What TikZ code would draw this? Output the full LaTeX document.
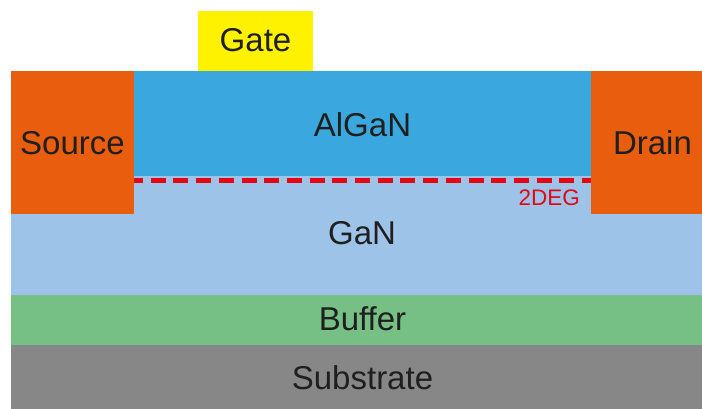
\documentclass[tikz,border=0pt]{standalone}
\usepackage{fontspec}
\setmainfont{Liberation Sans}
\definecolor{contactc}{HTML}{E85D0E}
\definecolor{algan}{HTML}{3AA8DF}
\definecolor{ganc}{HTML}{9DC3E8}
\definecolor{bufferc}{HTML}{76C085}
\definecolor{subc}{HTML}{878787}
\definecolor{gatec}{HTML}{FFF200}
\definecolor{degc}{HTML}{E30613}
\definecolor{txt}{HTML}{1F1F1F}
\tikzset{
  lbl/.style={anchor=base, inner sep=0pt, text=txt, font=\fontsize{33}{33}\selectfont},
  deglbl/.style={anchor=base east, inner sep=0pt, text=degc, font=\fontsize{22.5}{22.5}\selectfont},
  degline/.style={draw=degc, line width=5.5pt, dash pattern=on 15pt off 7.7pt, dash phase=6pt}
}
\begin{document}
\begin{tikzpicture}[x=1pt,y=-1pt]
\useasboundingbox (0,0) rectangle (702,409);
\clip (0,0) rectangle (702,409);
\fill[white] (0,0) rectangle (702,409);
% layers
\fill[subc] (11,345) rectangle (714,409);
\fill[bufferc] (11,295) rectangle (714,345);
\fill[ganc] (11,176) rectangle (714,295);
\fill[algan] (134,71) rectangle (591,176);
\fill[contactc] (11,71) rectangle (134,214);
\fill[contactc] (591,71) rectangle (714,214);
\fill[gatec] (198,11) rectangle (313,71);
% 2DEG
\coordinate (degL) at (134,180.7);
\coordinate (degR) at (591,180.7);
\draw[degline] (degL) -- (degR);
% labels
\node[lbl] (gate) at (255.5,52) {Gate};
\node[lbl] (alganlbl) at (362.5,137) {AlGaN};
\node[lbl] (source) at (72.5,155) {Source};
\node[lbl] (drain) at (652.5,155) {Drain};
\node[lbl] (ganlbl) at (362,244) {GaN};
\node[lbl] (buffer) at (362.5,330) {Buffer};
\node[lbl] (substrate) at (362.5,389) {Substrate};
\node[deglbl] (deg) at (580,206) {2DEG};
\end{tikzpicture}
\end{document}
